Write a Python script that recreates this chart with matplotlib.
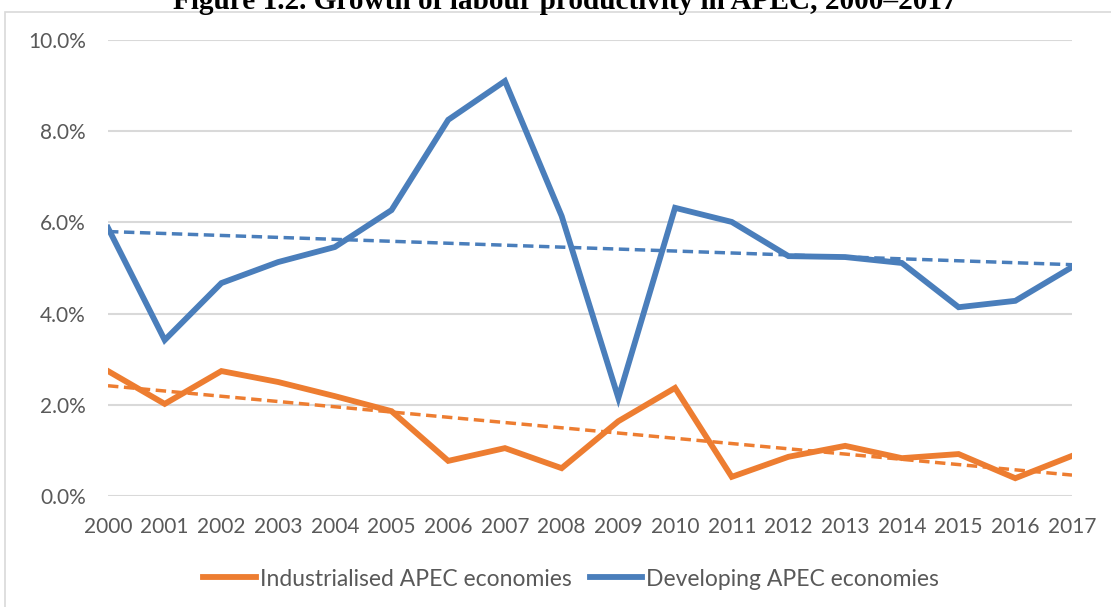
import numpy as np
import matplotlib.pyplot as plt
from matplotlib.patches import Rectangle
from matplotlib.ticker import PercentFormatter

# data (percent)
years = list(range(2000, 2018))
industrialised = [2.74, 2.02, 2.74, 2.50, 2.19, 1.86, 0.77, 1.05, 0.61, 1.64,
                  2.37, 0.42, 0.86, 1.10, 0.83, 0.92, 0.39, 0.88]
developing = [5.88, 3.42, 4.67, 5.13, 5.46, 6.27, 8.25, 9.10, 6.14, 2.15,
              6.32, 6.01, 5.26, 5.24, 5.11, 4.14, 4.28, 5.02]
series_names = ["Industrialised APEC economies", "Developing APEC economies"]
title = "Figure 1.2. Growth of labour productivity in APEC, 2000–2017"

orange = "#ED7D31"
blue = "#4A7EBB"
grey_txt = "#595959"
grid_c = "#D9D9D9"

W, H = 1111, 607
fig = plt.figure(figsize=(W / 100, H / 100), dpi=100)

# chart frame (light grey border, runs off right/bottom)
fig.add_artist(Rectangle((5 / W, -0.05), 1.2, 1 - 12 / H + 0.05,
                         transform=fig.transFigure, fill=False,
                         edgecolor=grid_c, linewidth=1.2))

fig.text(565 / W, 1 - 9 / H, title, ha="center", va="baseline",
         fontsize=21.1, fontweight="bold", family="Liberation Serif")

ax = fig.add_axes([108 / W, 1 - 496 / H, (1072 - 108) / W, (496 - 40) / H])

x = np.array(years, dtype=float)
ind = np.array(industrialised)
dev = np.array(developing)

ax.plot(x, ind, color=orange, linewidth=4.2, solid_joinstyle="miter",
        label=series_names[0], zorder=3)
ax.plot(x, dev, color=blue, linewidth=4.2, solid_joinstyle="miter",
        label=series_names[1], zorder=3)

# linear trend lines
for vals, c in [(ind, orange), (dev, blue)]:
    k, b = np.polyfit(x, vals, 1)
    ax.plot(x, k * x + b, color=c, linewidth=2.5, linestyle=(0, (3, 1.6)), zorder=2)

ax.set_xlim(2000, 2017)
ax.set_ylim(0, 10)
ax.set_yticks(np.arange(0, 10.1, 2))
ax.yaxis.set_major_formatter(PercentFormatter(decimals=1))
ax.set_xticks(years)
ax.set_xticklabels([str(y) for y in years])
ax.grid(True, axis="y", color=grid_c, linewidth=1.5)
ax.set_axisbelow(True)
for s in ax.spines.values():
    s.set_visible(False)
ax.tick_params(length=0, labelsize=15, labelcolor=grey_txt)
ax.tick_params(axis="x", pad=15)
ax.tick_params(axis="y", pad=16)
for lbl in ax.get_xticklabels() + ax.get_yticklabels():
    lbl.set_family("Lato")

leg = fig.legend(loc="center", bbox_to_anchor=(571 / W, 1 - 579 / H), ncol=2,
                 frameon=False, handlelength=2.3,
                 handletextpad=0.15, columnspacing=0.8,
                 prop={"family": "Lato", "size": 16.5})
for t in leg.get_texts():
    t.set_color(grey_txt)

fig.savefig("out.png", dpi=100)
